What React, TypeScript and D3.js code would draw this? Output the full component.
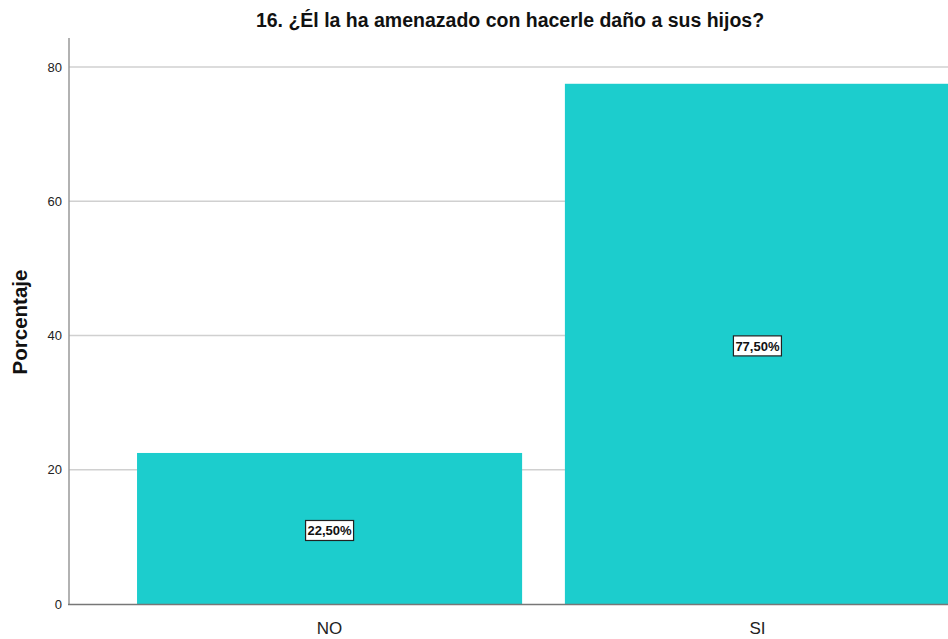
import React, { useEffect, useRef } from 'react';
import * as d3 from 'd3';

const categories = ['NO', 'SI'];
const values = [22.5, 77.5];
const valueLabels = ['22,50%', '77,50%'];
const yTicks = [0, 20, 40, 60, 80];

const App = () => {
  const ref = useRef<SVGSVGElement>(null);

  useEffect(() => {
    const width = 948;
    const height = 639;
    const svg = d3.select(ref.current);
    svg.selectAll('*').remove();

    const font = '"Liberation Sans", Arial, sans-serif';

    // y: 0 at 604, 80 at 67
    const y = d3.scaleLinear().domain([0, 80]).range([604, 67]);
    const x = d3.scaleBand().domain(categories).range([69, 1018]).paddingInner(0.1).paddingOuter(0.159);

    svg.append('rect').attr('width', width).attr('height', height).attr('fill', 'white');

    // grid lines
    svg.selectAll('.grid')
      .data(yTicks.filter(d => d > 0))
      .enter()
      .append('line')
      .attr('x1', 69)
      .attr('x2', width)
      .attr('y1', d => y(d))
      .attr('y2', d => y(d))
      .attr('stroke', '#d0d0d0')
      .attr('stroke-width', 1.5);

    // bars
    svg.selectAll('.bar')
      .data(values)
      .enter()
      .append('rect')
      .attr('x', (d, i) => x(categories[i])!)
      .attr('y', d => y(d))
      .attr('width', x.bandwidth())
      .attr('height', d => y(0) - y(d))
      .attr('fill', '#1ccdcd');

    // axes lines
    svg.append('line')
      .attr('x1', 69).attr('x2', 69).attr('y1', 38).attr('y2', 605)
      .attr('stroke', '#999').attr('stroke-width', 1.5);
    svg.append('line')
      .attr('x1', 68).attr('x2', width).attr('y1', 604.5).attr('y2', 604.5)
      .attr('stroke', '#777').attr('stroke-width', 1.5);

    // y tick labels
    svg.selectAll('.ytick')
      .data(yTicks)
      .enter()
      .append('text')
      .attr('x', 62)
      .attr('y', d => y(d))
      .attr('dy', '0.35em')
      .attr('text-anchor', 'end')
      .style('font-family', font)
      .style('font-size', '13px')
      .style('fill', '#222')
      .text(d => d);

    // x labels
    svg.selectAll('.xlabel')
      .data(categories)
      .enter()
      .append('text')
      .attr('x', d => x(d)! + x.bandwidth() / 2)
      .attr('y', 634)
      .attr('text-anchor', 'middle')
      .style('font-family', font)
      .style('font-size', '17px')
      .style('fill', '#222')
      .text(d => d);

    // value labels
    const lab = svg.selectAll('.vlabel')
      .data(values)
      .enter()
      .append('g')
      .attr('transform', (d, i) => `translate(${x(categories[i])! + x.bandwidth() / 2},${(y(0) + y(d)) / 2 + 2})`);
    lab.append('rect')
      .attr('x', -24).attr('y', -10).attr('width', 48).attr('height', 20)
      .attr('fill', 'white').attr('stroke', '#222').attr('stroke-width', 1.2);
    lab.append('text')
      .attr('text-anchor', 'middle')
      .attr('dy', '0.36em')
      .style('font-family', font)
      .style('font-weight', 'bold')
      .style('font-size', '13px')
      .style('fill', '#111')
      .text((d, i) => valueLabels[i]);

    // title
    svg.append('text')
      .attr('x', 510)
      .attr('y', 27)
      .attr('text-anchor', 'middle')
      .style('font-family', font)
      .style('font-weight', 'bold')
      .style('font-size', '19.5px')
      .style('fill', '#111')
      .text('16. ¿Él la ha amenazado con hacerle daño a sus hijos?');

    // y axis title
    svg.append('text')
      .attr('transform', 'translate(27,322) rotate(-90)')
      .attr('text-anchor', 'middle')
      .style('font-family', font)
      .style('font-weight', 'bold')
      .style('font-size', '20.5px')
      .style('fill', '#111')
      .text('Porcentaje');
  }, []);

  return (
    <svg ref={ref} width={948} height={639} style={{ position: 'absolute', left: 0, top: 0, display: 'block' }} />
  );
};

export default App;
